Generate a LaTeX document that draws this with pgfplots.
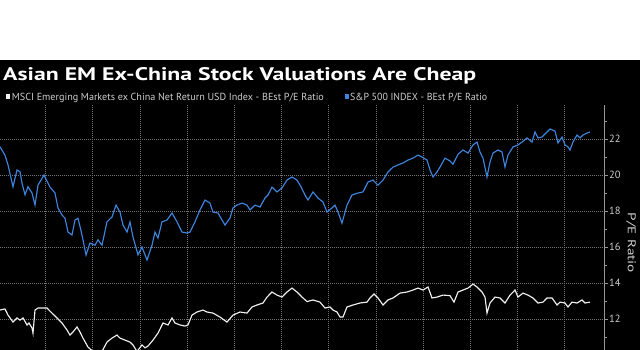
\documentclass[border=0pt]{standalone}
\usepackage{graphicx}
\usepackage{pgfplots}
\pgfplotsset{compat=1.18}
\usepackage{fontspec}
\setmainfont{PT Sans}
\definecolor{spblue}{RGB}{62,132,222}
\definecolor{emwhite}{RGB}{240,240,240}
\definecolor{gridc}{RGB}{115,115,115}
\definecolor{tickc}{RGB}{205,205,205}
\definecolor{axc}{RGB}{150,150,150}
\begin{document}
\begin{tikzpicture}[x=1pt,y=1pt]
\fill[white] (0,0) rectangle (640,350);
\fill[black] (0,0) rectangle (640,290);
\useasboundingbox (0,0) rectangle (640,350);
\node[anchor=base west, inner sep=0pt, text=white] at (3,269) {\resizebox{473pt}{13pt}{\bfseries Asian EM Ex-China Stock Valuations Are Cheap}};
\fill[emwhite] (6,251) rectangle (10,256);
\node[anchor=base west, inner sep=0pt, text=tickc] at (11.7,249) {\resizebox{312pt}{7.3pt}{MSCI Emerging Markets ex China Net Return USD Index - BEst P/E Ratio}};
\fill[spblue] (345,251) rectangle (349,256);
\node[anchor=base west, inner sep=0pt, text=tickc] at (350,249) {\resizebox{137pt}{7.3pt}{S\&P 500 INDEX - BEst P/E Ratio}};
\begin{axis}[
  at={(0,0)}, anchor=south west, scale only axis, width=604pt, height=245pt,
  xmin=0, xmax=604, ymin=10.28, ymax=23.89,
  axis x line*=bottom, axis y line*=right,
  x axis line style={draw=none},
  y axis line style={color=axc, line width=0.6pt},
  xtick={45.5,92.7,139.9,187.1,234.3,281.5,328.7,375.9,423.1,470.3,517.5,564.7},
  xticklabels={}, xtick style={draw=none},
  ytick={12,14,16,18,20,22}, minor ytick={11,13,15,17,19,21,23},
  tick align=outside, major tick length=4pt, minor tick length=2.5pt,
  ytick style={color=axc, line width=0.6pt},
  minor tick style={color=axc, line width=0.6pt},
  xmajorgrids, ymajorgrids,
  grid style={color=gridc, dash pattern=on 0.8pt off 1.2pt, line width=0.55pt},
  yticklabel style={font=\fontsize{10.5}{10.5}\selectfont, text=tickc, inner sep=1pt},
  /pgf/number format/assume math mode=true,
  clip=true,
]
\addplot[color=emwhite, line width=1.15pt] coordinates {
(0,12.5) (5,12.56) (8,12.22) (13,11.83) (17,12.06) (20,11.94) (23,12.06) (27,11.67) (29,11.78) (32,11.5) (33,11.22) (35,12.5) (38,12.61) (43,12.61) (47,12.61) (52,12.33) (57,12.06) (62,11.78) (67,11.39) (70,11.11) (73,11.28) (77,11.56) (80,11.28) (83,10.94) (88,10.44) (93,10.2) (100,10.0) (107,10.72) (112,10.94) (117,11.11) (120,10.94) (125,10.83) (130,10.72) (133,10.56) (137,10.2) (142,10.56) (145,10.4) (148,10.5) (153,10.83) (158,11.22) (163,11.78) (168,11.67) (172,12.06) (175,11.78) (180,11.67) (185,11.61) (188,11.67) (192,12.22) (197,12.39) (203,12.5) (207,12.39) (213,12.33) (220,12.11) (227,11.83) (233,12.22) (240,12.39) (247,12.33) (252,12.67) (257,12.78) (263,12.89) (267,13.22) (272,13.5) (277,13.33) (282,13.22) (287,13.5) (292,13.72) (297,13.5) (302,13.22) (307,12.97) (313,13.06) (320,12.94) (325,12.61) (330,12.67) (333,12.5) (337,12.39) (340,12.11) (343,12.11) (347,12.67) (353,12.78) (360,12.89) (367,12.94) (370,13.17) (374,13.39) (378,13.17) (383,12.78) (388,13.06) (393,13.17) (400,13.44) (407,13.5) (413,13.61) (418,13.72) (423,13.61) (428,13.78) (432,13.17) (437,13.22) (443,13.33) (450,13.3) (454,12.94) (458,13.5) (463,13.61) (468,13.72) (473,13.94) (477,13.78) (482,13.5) (485,13.22) (487,12.33) (490,12.89) (495,13.22) (500,13.17) (505,12.89) (510,13.33) (515,13.61) (518,13.22) (523,13.44) (528,13.33) (533,13.17) (538,12.89) (543,12.94) (547,13.17) (552,13.17) (557,12.78) (560,12.94) (565,12.89) (568,12.67) (572,12.94) (577,12.89) (582,13.06) (585,12.89) (590,12.94)
};
\addplot[color=spblue, line width=1.15pt] coordinates {
(0,21.57) (5,21.1) (8,20.56) (13,19.35) (17,20.28) (20,20.18) (22,19.56) (25,18.9) (28,19.35) (32,19.0) (35,18.33) (38,19.44) (44,20.0) (50,19.33) (55,19.0) (58,18.17) (62,17.78) (65,17.6) (68,16.83) (72,16.67) (75,17.5) (78,17.6) (82,16.67) (86,15.56) (90,16.22) (95,16.1) (98,16.4) (102,16.1) (107,17.4) (112,17.67) (116,18.33) (120,17.94) (123,17.22) (127,16.83) (130,17.39) (133,16.56) (138,15.56) (142,16.0) (147,15.28) (152,16.1) (155,16.83) (158,16.5) (162,17.4) (167,17.5) (172,17.89) (177,17.4) (182,16.83) (187,16.78) (190,16.83) (195,17.4) (200,18.06) (205,18.61) (210,18.44) (213,17.94) (218,17.89) (222,17.5) (225,17.22) (230,17.61) (233,18.17) (237,18.33) (242,18.44) (247,18.33) (250,18.06) (255,18.33) (260,18.22) (265,18.72) (268,18.89) (272,19.33) (277,19.06) (282,19.28) (287,19.72) (292,19.89) (297,19.72) (301,19.35) (305,18.89) (308,18.61) (313,19.06) (318,18.72) (323,18.5) (327,17.94) (332,18.17) (335,18.33) (338,17.94) (342,17.33) (347,18.33) (352,18.89) (358,19.0) (363,19.06) (368,19.61) (373,19.72) (378,19.44) (383,19.72) (388,20.17) (393,20.44) (398,20.56) (403,20.67) (408,20.83) (413,20.94) (418,21.11) (422,21.0) (427,20.83) (430,20.28) (433,19.89) (437,20.17) (440,20.44) (445,20.94) (450,20.78) (453,20.6) (458,21.15) (463,21.39) (468,21.22) (473,21.67) (477,21.83) (480,21.28) (483,20.94) (487,19.89) (490,20.72) (493,21.22) (498,21.39) (502,21.28) (505,20.44) (508,21.11) (513,21.56) (518,21.67) (522,21.83) (527,22.06) (532,21.83) (535,22.39) (538,22.06) (542,22.11) (547,22.39) (550,22.56) (555,22.44) (558,21.78) (562,22.11) (565,21.67) (568,21.56) (570,21.39) (573,21.83) (577,22.22) (580,22.06) (583,22.22) (587,22.33) (590,22.39)
};
\end{axis}
\node[rotate=-90, inner sep=0pt, text=tickc] at (631,107) {\resizebox{60pt}{8pt}{P/E Ratio}};
\end{tikzpicture}
\end{document}
